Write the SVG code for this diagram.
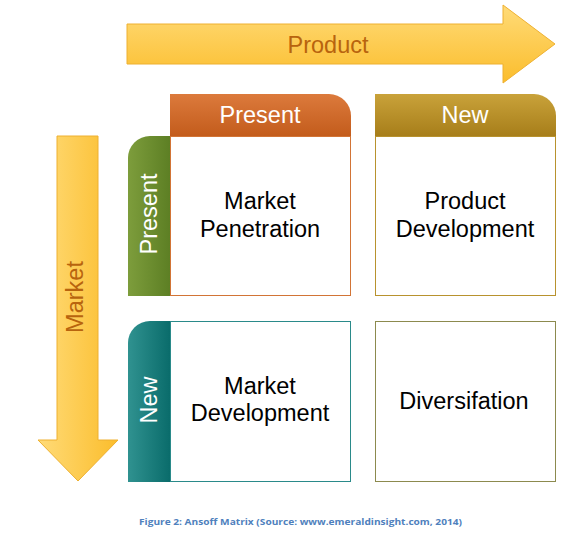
<svg xmlns="http://www.w3.org/2000/svg" width="574" height="534" viewBox="0 0 574 534">
<defs>
<linearGradient id="arrH" x1="0" y1="0" x2="0" y2="1"><stop offset="0" stop-color="#ffdb78"/><stop offset="1" stop-color="#fbbd2c"/></linearGradient>
<linearGradient id="arrV" x1="0" y1="0" x2="1" y2="0"><stop offset="0" stop-color="#ffdb78"/><stop offset="1" stop-color="#fbbd2c"/></linearGradient>
<linearGradient id="gOrange" x1="0" y1="0" x2="0" y2="1"><stop offset="0" stop-color="#dc7a3c"/><stop offset="1" stop-color="#c35c1c"/></linearGradient>
<linearGradient id="gGold" x1="0" y1="0" x2="0" y2="1"><stop offset="0" stop-color="#c9a23a"/><stop offset="1" stop-color="#a77e1a"/></linearGradient>
<linearGradient id="gGreen" x1="0" y1="0" x2="1" y2="0"><stop offset="0" stop-color="#7d9d3c"/><stop offset="1" stop-color="#5d7f24"/></linearGradient>
<linearGradient id="gTeal" x1="0" y1="0" x2="1" y2="0"><stop offset="0" stop-color="#309290"/><stop offset="1" stop-color="#0a6c6b"/></linearGradient>
</defs>
<style>
.t{font-family:"Liberation Sans",Arial,sans-serif;font-size:23.5px;text-anchor:middle}
.w{fill:#ffffff}
.k{fill:#000000}
.a{fill:#b8640e}
.cap{font-family:"Open Sans","Liberation Sans",sans-serif;font-size:9.5px;font-weight:bold;fill:#4f81bd}
.body{fill:#ffffff;stroke-width:1}
</style>
<rect width="574" height="534" fill="#ffffff"/>
<g id="product-arrow">
<path d="M127,24 H503 V5 L555,44 L503,83 V64 H127 Z" fill="url(#arrH)" stroke="#eeb030" stroke-width="1"/>
<text class="t a" x="328" y="53">Product</text>
</g>
<g id="market-arrow">
<path d="M57,136 H98 V440 H118 L78,481 L38,440 H57 Z" fill="url(#arrV)" stroke="#eeb030" stroke-width="1"/>
<text class="t a" transform="translate(83,297) rotate(-90)" x="0" y="0">Market</text>
</g>
<g id="market-penetration">
<path d="M170,136 V94 H329 A22,22 0 0 1 351,116 V136 Z" fill="url(#gOrange)"/>
<text class="t w" x="260" y="123">Present</text>
<path d="M128,296 V158 A22,22 0 0 1 150,136 H170 V296 Z" fill="url(#gGreen)"/>
<text class="t w" transform="translate(157,214) rotate(-90)">Present</text>
<rect class="body" x="170.5" y="136.5" width="180" height="159" stroke="#d27436"/>
<text class="t k" x="260" y="209">Market</text>
<text class="t k" x="260" y="237">Penetration</text>
</g>
<g id="product-development">
<path d="M375,136 V94 H534 A22,22 0 0 1 556,116 V136 Z" fill="url(#gGold)"/>
<text class="t w" x="465" y="123">New</text>
<rect class="body" x="375.5" y="136.5" width="180" height="159" stroke="#b8922e"/>
<text class="t k" x="465" y="209">Product</text>
<text class="t k" x="465" y="237">Development</text>
</g>
<g id="market-development">
<path d="M128,482 V343 A22,22 0 0 1 150,321 H170 V482 Z" fill="url(#gTeal)"/>
<text class="t w" transform="translate(157,400) rotate(-90)">New</text>
<rect class="body" x="170.5" y="321.5" width="180" height="160" stroke="#2a8a8a"/>
<text class="t k" x="260" y="394">Market</text>
<text class="t k" x="260" y="421">Development</text>
</g>
<g id="diversification">
<rect class="body" x="375.5" y="321.5" width="180" height="160" stroke="#8c8a4e"/>
<text class="t k" x="464" y="409">Diversifation</text>
</g>
<g id="connectors"></g>
<text class="cap" x="139" y="525" textLength="323" lengthAdjust="spacingAndGlyphs">Figure 2: Ansoff Matrix (Source: www.emeraldinsight.com, 2014)</text>
</svg>
